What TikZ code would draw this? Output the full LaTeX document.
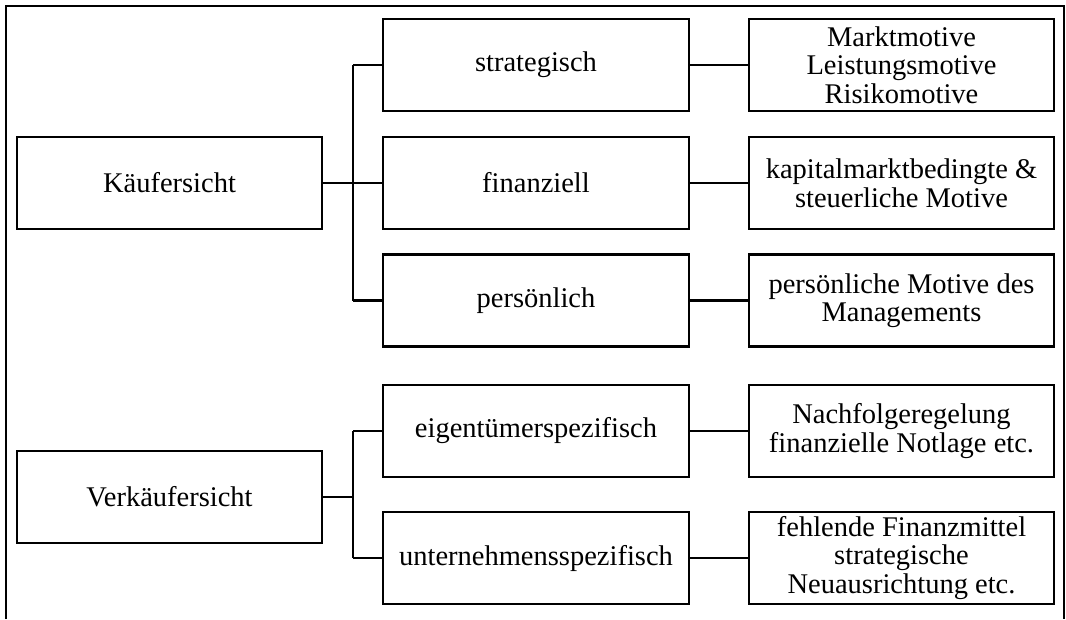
\documentclass[tikz,border=0pt]{standalone}
\usepackage{fontspec}
\setmainfont{Liberation Serif}
\begin{document}
\begin{tikzpicture}[x=1pt,y=-1pt,
  box/.style={draw,line width=2.2pt,minimum width=305pt,minimum height=92pt,
    inner sep=0pt,align=center,font=\fontsize{28.5}{28.5}\selectfont},
  link/.style={line width=2.2pt},
  frame/.style={line width=1.8pt}]
\useasboundingbox (0,0) rectangle (1066,619);
% outer frame, open at the bottom
\coordinate (fa) at (6,619);
\coordinate (fb) at (6,6);
\coordinate (fc) at (1064,6);
\coordinate (fd) at (1064,619);
\draw[frame] (fa) -- (fb) -- (fc) -- (fd);

% buyer side
\node[box] (k)  at (169.5,183) {Käufersicht};
\node[box,minimum width=306pt] (s1) at (536,65)    {strategisch};
\node[box,minimum width=306pt] (s2) at (536,183)   {finanziell};
\node[box,minimum width=306pt] (s3) at (536,300.5) {persönlich};
\node[box] (m1) at (901.5,65)    {Marktmotive\\Leistungsmotive\\Risikomotive};
\node[box] (m2) at (901.5,183)   {kapitalmarktbedingte \&\\steuerliche Motive};
\node[box] (m3) at (901.5,300.5) {persönliche Motive des\\Managements};

% seller side
\node[box] (v)  at (169.5,497) {Verkäufersicht};
\node[box,minimum width=306pt] (e1) at (536,431) {eigentümerspezifisch};
\node[box,minimum width=306pt] (e2) at (536,558) {unternehmensspezifisch};
\node[box] (n1) at (901.5,431) {Nachfolgeregelung\\finanzielle Notlage etc.};
\node[box] (n2) at (901.5,558) {fehlende Finanzmittel\\strategische\\Neuausrichtung etc.};

% branching points
\coordinate (ta) at (353,65);
\coordinate (tb) at (353,183);
\coordinate (tc) at (353,300.5);
\coordinate (ua) at (353,431);
\coordinate (ub) at (353,497);
\coordinate (uc) at (353,558);

\draw[link] (ta) -- (tc);
\draw[link] (k.east) -- (tb);
\draw[link] (ta) -- (s1.west);
\draw[link] (tb) -- (s2.west);
\draw[link] (tc) -- (s3.west);
\draw[link] (s1) -- (m1);
\draw[link] (s2) -- (m2);
\draw[link] (s3) -- (m3);

\draw[link] (ua) -- (uc);
\draw[link] (v.east) -- (ub);
\draw[link] (ua) -- (e1.west);
\draw[link] (uc) -- (e2.west);
\draw[link] (e1) -- (n1);
\draw[link] (e2) -- (n2);
\end{tikzpicture}
\end{document}
